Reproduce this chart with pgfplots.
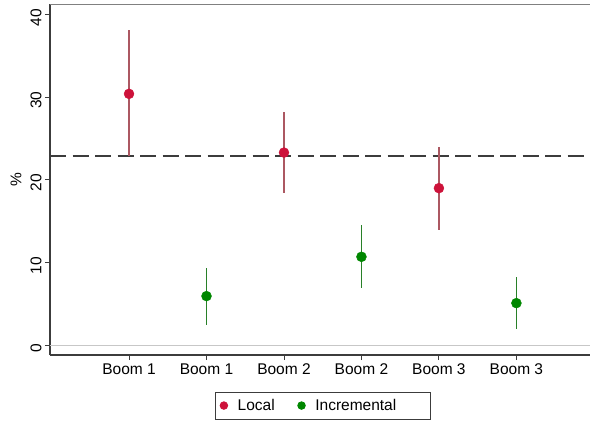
\documentclass[border=0pt]{standalone}
\usepackage{fontspec}
\setmainfont{Liberation Sans}
\usepackage{pgfplots}
\pgfplotsset{compat=1.18}
\definecolor{localdot}{RGB}{205,18,58}
\definecolor{localci}{RGB}{172,88,98}
\definecolor{incdot}{RGB}{0,135,0}
\definecolor{incci}{RGB}{40,128,40}
\definecolor{axisgray}{RGB}{60,60,60}
\begin{document}
\begin{tikzpicture}
\useasboundingbox (0,0) rectangle (590bp,421bp);
\begin{axis}[
  at={(50bp,66bp)}, anchor=south west,
  scale only axis, width=540bp, height=350.5bp,
  xmin=-1.02, xmax=5.95, ymin=-1.17, ymax=41.2,
  axis x line*=bottom, axis y line*=left,
  axis line style={axisgray, line width=1.2bp},
  tick align=outside, major tick length=5bp,
  tick style={axisgray, line width=0.9bp},
  xtick={0,...,5}, xticklabels={Boom 1,Boom 1,Boom 2,Boom 2,Boom 3,Boom 3},
  ytick={0,10,20,30,40},
  font=\fontsize{15.5bp}{18bp}\selectfont,
  ticklabel style={font=\fontsize{15.5bp}{18bp}\selectfont},
  yticklabel style={rotate=90, anchor=south, xshift=-3bp},
  /pgf/number format/assume math mode=true,
  ylabel={\%},
  ylabel style={at={(axis description cs:-0.063,0.5)}, anchor=center},
  legend columns=2,
  legend style={at={(0.505,-0.105)}, anchor=north, draw=axisgray, line width=0.8bp,
    font=\fontsize{15.5bp}{18bp}\selectfont, inner xsep=5bp, inner ysep=5bp,
    /tikz/every odd column/.append style={column sep=8bp},
    /tikz/every even column/.append style={column sep=21bp}},
  legend image post style={mark size=3.8bp},
]
\addplot[black!22, line width=0.8bp, forget plot] coordinates {(-1.02,0) (5.95,0)};
\addplot[axisgray, line width=1.5bp, dash pattern=on 16bp off 6.5bp, forget plot] coordinates {(-1.02,22.86) (5.95,22.86)};
\addplot[only marks, mark=*, mark size=5bp, color=localdot, mark options={fill=localdot, draw=localdot},
  error bars/.cd, y dir=both, y explicit, error mark=none,
  error bar style={localci, line width=1.3bp}]
coordinates {
(0,30.4) += (0,7.7) -= (0,7.5)
(2,23.3) += (0,4.9) -= (0,4.9)
(4,19.0) += (0,5.0) -= (0,5.0)
};
\addlegendentry{Local}
\addplot[only marks, mark=*, mark size=5bp, color=incdot, mark options={fill=incdot, draw=incdot},
  error bars/.cd, y dir=both, y explicit, error mark=none,
  error bar style={incci, line width=1.4bp}]
coordinates {
(1,5.95) += (0,3.45) -= (0,3.45)
(3,10.7) += (0,3.8) -= (0,3.8)
(5,5.1) += (0,3.2) -= (0,3.1)
};
\addlegendentry{Incremental\hspace*{27bp}}
\draw[black!50, line width=1.5bp] (rel axis cs:0,1) -- (rel axis cs:1,1);
\end{axis}
\end{tikzpicture}
\end{document}
